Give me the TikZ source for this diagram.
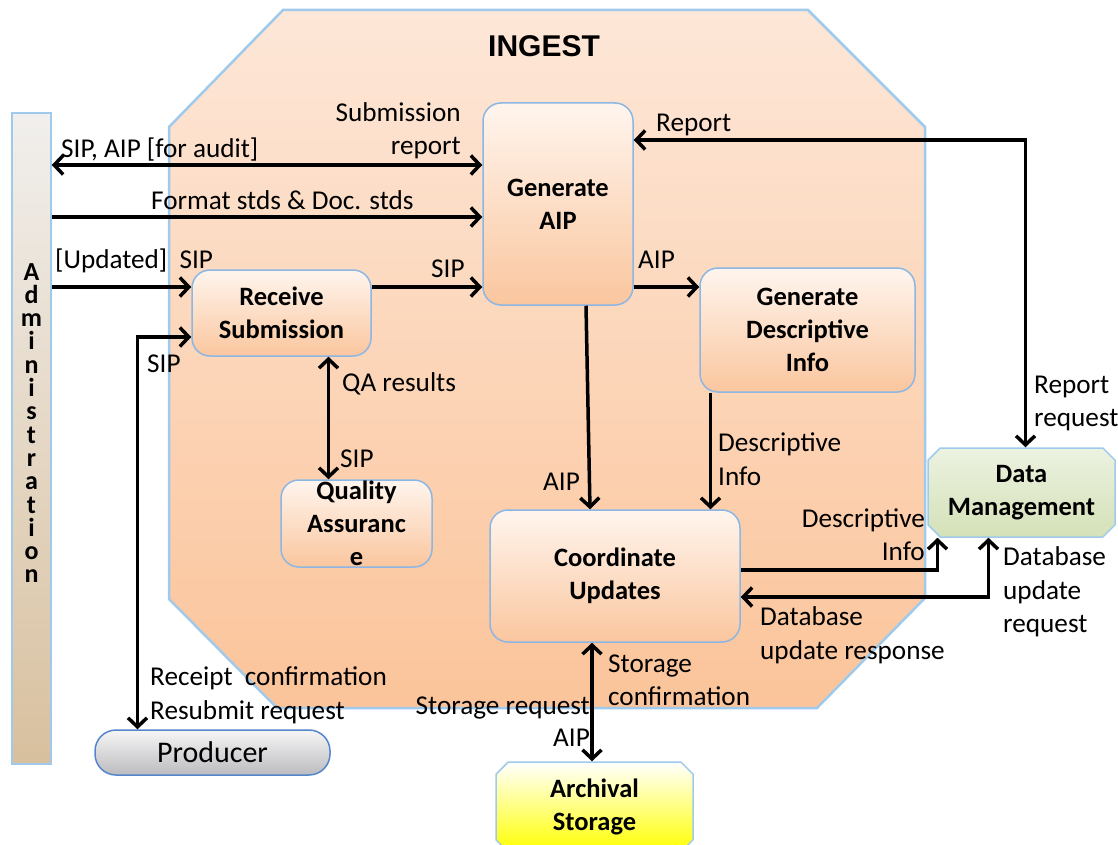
\documentclass[tikz,border=0pt]{standalone}
\usepackage{fontspec}
\setmainfont{Carlito}
\newfontfamily\ingestfont{Liberation Sans}
\usetikzlibrary{arrows.meta,shapes.misc}

\definecolor{peachtop}{RGB}{253,231,216}
\definecolor{peachbot}{RGB}{251,196,154}
\definecolor{frameblue}{RGB}{160,202,236}
\definecolor{boxtop}{RGB}{255,245,238}
\definecolor{boxbot}{RGB}{250,198,158}
\definecolor{boxline}{RGB}{140,182,228}
\definecolor{dmtop}{RGB}{236,242,224}
\definecolor{dmbot}{RGB}{212,225,184}
\definecolor{prodtop}{RGB}{246,246,246}
\definecolor{prodbot}{RGB}{188,188,192}
\definecolor{prodline}{RGB}{84,134,204}
\definecolor{admtop}{RGB}{241,239,237}
\definecolor{admbot}{RGB}{216,192,158}

\newcommand\lblfont{\fontsize{27.2}{33}\selectfont}
\newcommand\boxfont{\fontsize{26.5}{33}\selectfont\bfseries}

\tikzset{
  lbl/.style={font=\lblfont, inner sep=0pt},
  procbox/.style={draw=boxline, line width=1.5pt, rounded corners=18pt,
    top color=boxtop, bottom color=boxbot, font=\boxfont, align=center,
    inner sep=0pt},
  extbox/.style={chamfered rectangle, chamfered rectangle xsep=9pt,
    draw=frameblue, line width=1.5pt, font=\boxfont, align=center, inner sep=0pt},
  conn/.style={line width=3.5pt, draw=black,
    >={Straight Barb[length=9pt,width=19pt]}}
}

\begin{document}
\begin{tikzpicture}[x=1pt,y=-1pt]
\useasboundingbox (0,0) rectangle (1118,845);

% the Ingest functional area
\path[draw=frameblue, line width=2.5pt, top color=peachtop, bottom color=peachbot]
  (169,127) -- (283,10) -- (808,10) -- (925,127) -- (925,598)
  -- (817,708) -- (277,708) -- (169,599) -- cycle;
\node[font=\ingestfont\fontsize{30}{36}\selectfont\bfseries, inner sep=0pt, anchor=base]
  (ingest) at (544,57) {INGEST};

% Administration column
\node[chamfered rectangle, chamfered rectangle xsep=9pt, draw=frameblue, line width=1.5pt,
  top color=admtop, bottom color=admbot, minimum width=39pt, minimum height=651pt,
  inner sep=0pt] (admin) at (31.5,438.5) {};
\node[font=\fontsize{26}{23.3}\selectfont\bfseries, align=center, inner sep=0pt, anchor=north]
  (admlbl) at (31.5,263) {A\\d\\m\\i\\n\\i\\s\\t\\r\\a\\t\\i\\o\\n};

% processes inside Ingest
\node[procbox, minimum width=150pt, minimum height=202pt] (gaip) at (558,204) {Generate\\AIP};
\node[procbox, minimum width=179pt, minimum height=86pt] (rs) at (281.5,313) {Receive\\Submission};
\node[procbox, minimum width=215pt, minimum height=124pt] (gdi) at (807.5,330) {Generate\\Descriptive\\Info};
\node[procbox, minimum width=151pt, minimum height=87pt] (qa) at (356.5,523.5) {Quality\\Assuranc\\e};
\node[procbox, minimum width=250pt, minimum height=132pt] (cu) at (615,576) {Coordinate\\Updates};

% external entities
\node[extbox, top color=dmtop, bottom color=dmbot, minimum width=187pt, minimum height=89pt]
  (dm) at (1021.5,492.5) {Data\\Management};
\node[extbox, top color=white, bottom color=yellow, minimum width=197pt, minimum height=90pt]
  (as) at (594.5,807) {Archival\\Storage};
\node[draw=prodline, line width=1.5pt, rounded corners=21pt, top color=prodtop,
  bottom color=prodbot, minimum width=235pt, minimum height=45pt, inner sep=0pt,
  font=\fontsize{30}{36}\selectfont] (prod) at (212.5,752.5) {Producer};

% levels of the horizontal flows
\coordinate (yAudit) at (0,165);
\coordinate (yStd) at (0,217);
\coordinate (yUpd) at (0,287);
\coordinate (yRep) at (0,140);
\coordinate (yProd) at (0,337);
\coordinate (yDesc) at (0,570);
\coordinate (yDb) at (0,597);

% flows
\draw[conn,<->] (admin.east |- yAudit) -- (gaip.west |- yAudit);
\draw[conn,->] (admin.east |- yStd) -- (gaip.west |- yStd);
\draw[conn,->] (admin.east |- yUpd) -- (rs.west |- yUpd);
\draw[conn,->] (rs.east |- yUpd) -- (gaip.west |- yUpd);
\draw[conn,->] (gaip.east |- yUpd) -- (gdi.west |- yUpd);
\draw[conn,<->] (gaip.east |- yRep) -| ([xshift=4pt]dm.north);
\draw[conn,->] ([xshift=28pt]gaip.south) -- ([xshift=-25pt]cu.north);
\draw[conn,->] ([xshift=-97pt]gdi.south) -- ([xshift=-97pt]gdi.south |- cu.north);
\draw[conn,->] (cu.east |- yDesc) -| ([xshift=-84pt]dm.south);
\draw[conn,<->] (cu.east |- yDb) -| ([xshift=-33pt]dm.south);
\draw[conn,<->] ([xshift=-23pt]cu.south) -- ([xshift=-23pt]cu.south |- as.north);
\draw[conn,<->] (rs.west |- yProd) -| ([xshift=-75pt]prod.north);
\draw[conn,<->] ([xshift=47pt]rs.south) -- ([xshift=47pt]rs.south |- qa.north);

% flow labels
\node[lbl, anchor=base west] (lAudit) at (61,158) {SIP, AIP [for audit]};
\node[lbl, anchor=base east] (lSub1) at (461,122) {Submission};
\node[lbl, anchor=base east] (lSub2) at (461,155) {report};
\node[lbl, anchor=base west] (lStd) at (151,209) {Format stds \& Doc. stds};
\node[lbl, anchor=base west] (lUpd) at (55,268) {[Updated]\ \ SIP};
\node[lbl, anchor=base west] (lSip) at (431,277) {SIP};
\node[lbl, anchor=base west] (lAip) at (638,268) {AIP};
\node[lbl, anchor=base west] (lRep) at (656,132) {Report};
\node[lbl, anchor=base west] (lRr1) at (1034,393) {Report};
\node[lbl, anchor=base west] (lRr2) at (1034,426) {request};
\node[lbl, anchor=base west] (lPsip) at (147,372) {SIP};
\node[lbl, anchor=base west] (lQa) at (342,391) {QA results};
\node[lbl, anchor=base west] (lQsip) at (340,467) {SIP};
\node[lbl, anchor=base west] (lCaip) at (543,490) {AIP};
\node[lbl, anchor=base west] (lDi1) at (718,451) {Descriptive};
\node[lbl, anchor=base west] (lDi2) at (718,485) {Info};
\node[lbl, anchor=base east] (lDd1) at (925,527) {Descriptive};
\node[lbl, anchor=base east] (lDd2) at (925,560) {Info};
\node[lbl, anchor=base west] (lDq1) at (1003,565) {Database};
\node[lbl, anchor=base west] (lDq2) at (1003,599) {update};
\node[lbl, anchor=base west] (lDq3) at (1003,632) {request};
\node[lbl, anchor=base west] (lDr1) at (760,625) {Database};
\node[lbl, anchor=base west] (lDr2) at (760,659) {update response};
\node[lbl, anchor=base west] (lSc1) at (608,672) {Storage};
\node[lbl, anchor=base west] (lSc2) at (608,705) {confirmation};
\node[lbl, anchor=base east] (lSr) at (590,714) {Storage request};
\node[lbl, anchor=base west] (lSaip) at (553,746) {AIP};
\node[lbl, anchor=base west] (lRc) at (150,685) {Receipt\ \ confirmation};
\node[lbl, anchor=base west] (lRs) at (150,719) {Resubmit request};
\end{tikzpicture}
\end{document}
